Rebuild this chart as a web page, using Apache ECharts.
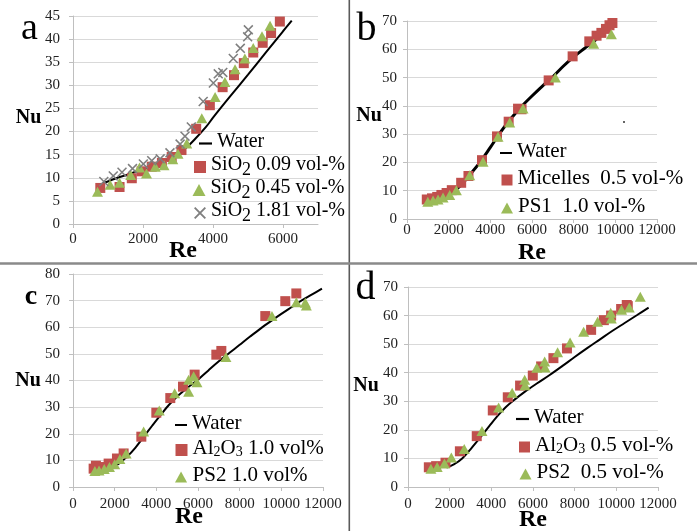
<!DOCTYPE html>
<html>
<head>
<meta charset="utf-8">
<script src="https://cdn.jsdelivr.net/npm/echarts@6/dist/echarts.min.js"></script>
<style>
  html, body { margin: 0; padding: 0; background: #fff; }
  #chart { width: 697px; height: 531px; }
</style>
</head>
<body>
<div id="chart"></div>
<script>
// ---- Panel a: SiO2 dispersions ----
const aWaterRe = [850, 1200, 1600, 2000, 2400, 2800, 3200, 3500, 3800, 4000, 4500, 5000, 5500, 6000, 6250];
const aWaterNu = [8.8, 9.8, 10.8, 11.9, 13.0, 14.4, 16.3, 18.5, 21.0, 23.0, 27.7, 32.3, 37.0, 41.7, 44.0];
const aSio009Re = [780, 1330, 1680, 1960, 2250, 2540, 2820, 3100, 3520, 3910, 4275, 4600, 4880, 5150, 5420, 5660, 5910];
const aSio009Nu = [7.8, 8.0, 9.9, 11.4, 12.4, 13.2, 14.5, 16.0, 20.6, 25.7, 29.6, 32.2, 34.8, 37.1, 39.2, 41.3, 43.8];
const aSio045Re = [700, 1060, 1330, 1650, 1900, 2100, 2350, 2600, 2850, 3000, 3250, 3680, 4060, 4340, 4630, 4910, 5150, 5400, 5630];
const aSio045Nu = [7.0, 8.5, 8.9, 10.6, 12.2, 10.9, 12.4, 12.7, 14.0, 15.2, 17.4, 22.9, 27.5, 30.7, 33.5, 35.8, 38.1, 40.6, 42.9];
const aSio181Re = [880, 1150, 1400, 1700, 2010, 2250, 2490, 2770, 3060, 3200, 3380, 3720, 4010, 4150, 4280, 4580, 4780, 4990, 5010];
const aSio181Nu = [9.2, 10.4, 11.2, 12.0, 13.0, 13.7, 14.1, 15.4, 17.3, 19.0, 21.0, 26.5, 30.5, 32.5, 32.8, 35.8, 38.0, 40.5, 42.0];

// ---- Panel b: micelles and PS1 ----
const bWaterRe = [1000, 1500, 2000, 2500, 3000, 3500, 4000, 4500, 5000, 5500, 6000, 6500, 7000, 7500, 8000, 8500, 9000, 9500, 9860];
const bWaterNu = [6.5, 7.2, 8.5, 11.3, 15.5, 20.0, 25.3, 30.8, 35.6, 39.8, 43.5, 47.0, 50.3, 54.0, 57.3, 60.2, 63.0, 66.3, 69.0];
const bMicRe = [950, 1200, 1450, 1650, 1900, 2150, 2600, 2950, 3600, 4320, 4880, 5330, 5500, 6800, 7950, 8750, 9100, 9330, 9550, 9720, 9860];
const bMicNu = [6.9, 7.3, 7.8, 8.5, 9.2, 10.2, 12.8, 15.2, 20.8, 29.2, 34.4, 39.0, 38.8, 49.0, 57.5, 62.8, 64.8, 65.8, 67.2, 68.5, 69.3];
const bPs1Re = [1000, 1250, 1490, 1730, 2050, 2370, 3010, 3650, 4370, 4930, 5570, 7120, 8960, 9810];
const bPs1Nu = [6.1, 6.5, 6.9, 7.6, 8.5, 10.2, 15.5, 20.2, 29.1, 34.1, 39.1, 50.0, 62.0, 65.3];

// ---- Panel c: Al2O3 and PS2 at 1.0 vol% ----
const cWaterRe = [1150, 1450, 1800, 2200, 2600, 3000, 3400, 3800, 4200, 4600, 5000, 5500, 6000, 6500, 7000, 7500, 8000, 8500, 9000, 9500, 10000, 10500, 11000, 11500, 11950];
const cWaterNu = [6.6, 6.4, 7.1, 8.8, 11.4, 14.8, 18.9, 23.0, 27.0, 30.8, 34.0, 37.3, 40.3, 43.8, 47.2, 50.3, 53.4, 56.5, 59.5, 62.3, 65.0, 67.6, 70.2, 72.4, 74.5];
const cAlRe = [990, 1100, 1470, 1710, 2110, 2430, 3280, 4000, 4670, 5280, 5840, 6880, 7120, 9230, 10190, 10720];
const cAlNu = [6.9, 8.0, 7.5, 8.8, 10.7, 12.6, 18.9, 27.9, 33.4, 37.7, 42.2, 49.7, 51.1, 64.2, 69.8, 72.7];
const cPs2Re = [1050, 1250, 1500, 1750, 2000, 2250, 2550, 3390, 4140, 4880, 5550, 5550, 5790, 5950, 7340, 9550, 10720, 11150, 11200];
const cPs2Nu = [6.0, 6.2, 6.8, 7.5, 8.5, 10.5, 12.6, 20.8, 28.7, 35.2, 35.8, 40.3, 41.6, 39.3, 48.8, 64.2, 69.4, 69.2, 68.2];

// ---- Panel d: Al2O3 and PS2 at 0.5 vol-% ----
const dWaterRe = [1850, 2200, 2600, 3000, 3500, 3900, 4300, 4700, 5100, 5600, 6200, 6800, 7400, 8000, 8600, 9200, 9800, 10400, 11000, 11550];
const dWaterNu = [6.8, 7.9, 10.0, 13.2, 17.6, 21.3, 24.9, 28.0, 30.5, 33.3, 36.3, 39.2, 42.3, 45.5, 48.6, 51.6, 54.6, 57.4, 60.2, 62.8];
const dAlRe = [1000, 1350, 1800, 2490, 3300, 4070, 4790, 5380, 5990, 6390, 6980, 7630, 8790, 9400, 9750, 10230, 10500, 10550];
const dAlNu = [6.9, 7.3, 8.5, 12.5, 17.8, 26.8, 31.4, 35.5, 39.0, 42.2, 45.1, 48.5, 55.0, 58.4, 60.0, 62.3, 63.7, 63.3];
const dPs2Re = [1100, 1400, 1750, 2080, 2700, 3550, 4350, 5000, 5600, 5620, 6180, 6560, 6580, 7180, 7780, 8430, 9100, 9730, 9760, 10250, 10620, 11150];
const dPs2Nu = [6.4, 7.0, 8.2, 10.3, 13.3, 19.6, 27.8, 33.0, 37.5, 35.6, 41.7, 43.9, 41.8, 47.2, 50.6, 54.3, 57.8, 61.0, 59.0, 62.0, 62.8, 66.6];

// ---- Axis ticks ----
const reTickStep = 2000;
const aReMax = 7000, aNuMax = 45, aNuStep = 5;
const bReMax = 12000, bNuMax = 70, bNuStep = 10;
const cReMax = 12000, cNuMax = 80, cNuStep = 10;
const dReMax = 12000, dNuMax = 70, dNuStep = 10;

// ---- Styling ----
const SERIF = '"Liberation Serif", "Times New Roman", serif';
const RED = '#c0504d';
const GREEN = '#9bbb59';
const GREY = '#7f7f7f';
const CROSS = 'path://M0,1.1L1.1,0L10,8.9L8.9,10Z M8.9,0L10,1.1L1.1,10L0,8.9Z';
const SQUARE = 'path://M0,0H10V10H0Z';
const TRIANGLE = 'path://M5.5,0L11,10H0Z';
const BAR = 'path://M0,0H12V2H0Z';

const zip = (xs, ys) => xs.map((x, i) => [x, ys[i]]);

// legend text: n = normal, s = lowered full-size index, u = small index on the baseline
function richText(size) {
  return {
    n: { fontFamily: SERIF, fontSize: size, lineHeight: 24, verticalAlign: 'top', color: '#000' },
    s: { fontFamily: SERIF, fontSize: size - 2, lineHeight: size - 2, verticalAlign: 'top',
         padding: [6, 0, 0, 0], color: '#000' },
    u: { fontFamily: SERIF, fontSize: 14, lineHeight: 14, verticalAlign: 'top',
         padding: [7, 0, 0, 0], color: '#000' }
  };
}
const legendText = {
  aW: '{n|Water}',
  aS: '{n|SiO}{s|2}{n| 0.09 vol-%}',
  aT: '{n|SiO}{s|2}{n| 0.45 vol-%}',
  aX: '{n|SiO}{s|2}{n| 1.81 vol-%}',
  bW: '{n|Water}',
  bS: '{n|Micelles  0.5 vol-%}',
  bT: '{n|PS1  1.0 vol-%}',
  cW: '{n|Water}',
  cS: '{n|Al}{u|2}{n|O}{u|3}{n| 1.0 vol%}',
  cT: '{n|PS2 1.0 vol%}',
  dW: '{n|Water}',
  dS: '{n|Al}{u|2}{n|O}{u|3}{n| 0.5 vol-%}',
  dT: '{n|PS2  0.5 vol-%}'
};

// one legend row per entry: [name, icon, iconLeft, rowCenterY, iconW, iconH, color, fontSize]
const legendRows = [
  ['aW', BAR, 199, 143.5, 13, 10, '#000', 20],
  ['aS', SQUARE, 194, 167, 12, 12, RED, 20],
  ['aT', TRIANGLE, 192.5, 190, 13, 12, GREEN, 20],
  ['aX', CROSS, 194, 213, 12, 12, GREY, 20],
  ['bW', BAR, 500, 153, 12, 10, '#000', 21],
  ['bS', SQUARE, 501.5, 180, 11, 11, RED, 21],
  ['bT', TRIANGLE, 501, 208, 12, 11, GREEN, 21],
  ['cW', BAR, 175, 425, 12, 10, '#000', 21],
  ['cS', SQUARE, 175.5, 450, 12, 12, RED, 21],
  ['cT', TRIANGLE, 175, 477, 13, 11, GREEN, 21],
  ['dW', BAR, 516, 419, 13, 10, '#000', 21],
  ['dS', SQUARE, 519, 447, 11, 11, RED, 21],
  ['dT', TRIANGLE, 519.5, 474, 12, 11, GREEN, 21]
];

const legends = legendRows.map(([name, icon, left, cy, w, h, color, size]) => ({
  left: left, top: cy - 12, padding: 0,
  itemWidth: w, itemHeight: h, selectedMode: false,
  data: [{ name: name, icon: icon }],
  itemStyle: { color: color, borderWidth: 0 },
  formatter: (n) => legendText[n],
  textStyle: { fontFamily: SERIF, fontSize: size, color: '#000', rich: richText(size) }
}));

// plot areas
const grids = [
  { left: 73, top: 16, width: 245, height: 208 },
  { left: 407, top: 21, width: 250, height: 198 },
  { left: 73, top: 274, width: 250, height: 213 },
  { left: 408, top: 287, width: 250, height: 200 }
].map(g => Object.assign({ containLabel: false, outerBoundsMode: 'none' }, g));

const plain = (v) => String(v);

function xAxis(gi, max, margin) {
  return {
    type: 'value', gridIndex: gi, min: 0, max: max, interval: reTickStep,
    axisLine: { show: true, onZero: false, lineStyle: { color: '#bfbfbf', width: 1 } },
    axisTick: { show: true, length: 4, lineStyle: { color: '#bfbfbf' } },
    splitLine: { show: false },
    axisLabel: { margin: margin, fontFamily: SERIF, fontSize: 15, color: '#222', formatter: plain,
                 showMaxLabel: max % reTickStep === 0, hideOverlap: false }
  };
}
function yAxis(gi, max, step, margin) {
  return {
    type: 'value', gridIndex: gi, min: 0, max: max, interval: step,
    axisLine: { show: true, onZero: false, lineStyle: { color: '#bfbfbf', width: 1 } },
    axisTick: { show: true, length: 4, lineStyle: { color: '#bfbfbf' } },
    splitLine: { show: true, lineStyle: { color: '#d9d9d9', width: 1 } },
    axisLabel: { margin: margin, fontFamily: SERIF, fontSize: 15, color: '#222', formatter: plain }
  };
}

function water(name, gi, re, nu, width) {
  return {
    name: name, type: 'line', xAxisIndex: gi, yAxisIndex: gi,
    data: zip(re, nu), smooth: 0.35, symbol: 'none', color: '#000',
    itemStyle: { color: '#000' },
    lineStyle: { color: '#000', width: width }, z: 2, silent: true
  };
}
function dots(name, gi, re, nu, symbol, size, color, z) {
  return {
    name: name, type: 'scatter', xAxisIndex: gi, yAxisIndex: gi,
    data: zip(re, nu), symbol: symbol, symbolSize: size,
    itemStyle: { color: color, opacity: 1 }, z: z, silent: true
  };
}

const series = [
  water('aW', 0, aWaterRe, aWaterNu, 2),
  dots('aS', 0, aSio009Re, aSio009Nu, SQUARE, 10, RED, 3),
  dots('aT', 0, aSio045Re, aSio045Nu, TRIANGLE, [11, 10], GREEN, 4),
  dots('aX', 0, aSio181Re, aSio181Nu, CROSS, 10, GREY, 5),
  water('bW', 1, bWaterRe, bWaterNu, 3),
  dots('bS', 1, bMicRe, bMicNu, SQUARE, 10, RED, 3),
  dots('bT', 1, bPs1Re, bPs1Nu, TRIANGLE, [11, 10], GREEN, 4),
  water('cW', 2, cWaterRe, cWaterNu, 2),
  dots('cS', 2, cAlRe, cAlNu, SQUARE, 10, RED, 3),
  dots('cT', 2, cPs2Re, cPs2Nu, TRIANGLE, [11, 10], GREEN, 4),
  water('dW', 3, dWaterRe, dWaterNu, 2),
  dots('dS', 3, dAlRe, dAlNu, SQUARE, 10, RED, 3),
  dots('dT', 3, dPs2Re, dPs2Nu, TRIANGLE, [11, 10], GREEN, 4)
];

function label(text, x, y, size, bold) {
  return {
    type: 'text', x: x, y: y, silent: true,
    style: { text: text, fontFamily: SERIF, fontSize: size, fontWeight: bold ? 'bold' : 'normal',
             fill: '#000', align: 'center', verticalAlign: 'middle' }
  };
}

const graphic = [
  // panel dividers
  { type: 'rect', shape: { x: 348.5, y: 0, width: 1.6, height: 531 }, style: { fill: '#5a5a5a' }, silent: true },
  { type: 'rect', shape: { x: 0, y: 262.3, width: 697, height: 2.4 }, style: { fill: '#8a8a8a' }, silent: true },
  // panel letters
  label('a', 29.5, 29, 38, false),
  label('b', 366.5, 29.5, 40, false),
  label('c', 31, 296.5, 28, true),
  label('d', 365.5, 288.5, 40, false),
  // axis titles
  label('Nu', 28.5, 118, 20, true),
  label('Re', 183, 251, 24, true),
  label('Nu', 369, 116, 20, true),
  label('Re', 532, 253, 24, true),
  label('Nu', 28, 381, 20, true),
  label('Re', 189, 517, 24, true),
  label('Nu', 366, 386, 20, true),
  label('Re', 533, 520, 24, true),
  // stray dot in panel b
  { type: 'circle', shape: { cx: 624, cy: 122, r: 1 }, style: { fill: '#333' }, silent: true }
];

const chart = echarts.init(document.getElementById('chart'), null, { renderer: 'canvas' });
chart.setOption({
  animation: false,
  backgroundColor: '#fff',
  grid: grids,
  xAxis: [xAxis(0, aReMax, 8), xAxis(1, bReMax, 4), xAxis(2, cReMax, 10), xAxis(3, dReMax, 10)],
  yAxis: [yAxis(0, aNuMax, aNuStep, 13), yAxis(1, bNuMax, bNuStep, 10), yAxis(2, cNuMax, cNuStep, 13), yAxis(3, dNuMax, dNuStep, 10)],
  legend: legends,
  series: series,
  graphic: graphic
});
</script>
</body>
</html>
